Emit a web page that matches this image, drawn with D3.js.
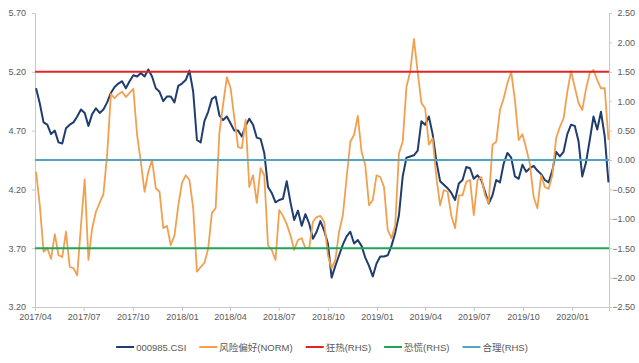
<!DOCTYPE html>
<html><head><meta charset="utf-8">
<script src="https://cdn.jsdelivr.net/npm/d3@7"></script>
<style>
html,body{margin:0;padding:0;background:#fff;}
svg text{font-family:"Liberation Sans",Arial,sans-serif;fill:#595959;}
</style></head>
<body><svg id="chart" width="639" height="363"></svg>
<script>
// Weekly observations (Mondays) from 2017-04-03 to 2020-03-09
const dates = d3.timeMonday.range(new Date(2017,3,3), new Date(2020,2,10));

// 000985.CSI (left axis)
const csi = [5.06,4.93,4.77,4.75,4.67,4.70,4.60,4.59,4.72,4.75,4.77,4.82,4.88,4.85,4.74,4.84,4.89,4.85,4.88,4.94,
5.02,5.07,5.10,5.12,5.06,5.12,5.17,5.16,5.19,5.16,5.22,5.16,5.06,5.03,4.95,4.99,4.99,4.94,5.08,5.10,
5.13,5.21,5.03,4.62,4.60,4.78,4.86,4.97,4.99,4.83,4.79,4.82,4.76,4.70,4.70,4.65,4.74,4.80,4.75,4.64,
4.63,4.51,4.22,4.17,4.09,4.11,4.12,4.27,4.09,3.94,4.02,3.89,3.99,3.91,3.78,3.84,3.93,3.85,3.74,3.45,
3.55,3.64,3.73,3.80,3.84,3.74,3.77,3.72,3.62,3.55,3.46,3.57,3.63,3.63,3.64,3.72,3.83,3.98,4.31,4.47,
4.48,4.49,4.53,4.78,4.75,4.82,4.67,4.44,4.27,4.24,4.21,4.17,4.11,4.25,4.28,4.39,4.38,4.29,4.32,4.28,
4.18,4.08,4.15,4.28,4.26,4.42,4.51,4.47,4.31,4.29,4.41,4.35,4.38,4.40,4.36,4.33,4.28,4.26,4.36,4.52,
4.48,4.52,4.67,4.75,4.74,4.61,4.31,4.43,4.62,4.82,4.71,4.86,4.65,4.26];

// 风险偏好(NORM) (right axis)
const norm = [-0.20,-0.77,-1.56,-1.50,-1.68,-1.26,-1.62,-1.65,-1.22,-1.82,-1.84,-1.96,-1.11,-0.33,-1.70,-1.16,-0.88,-0.73,-0.58,0.09,
1.12,1.05,1.12,1.16,1.07,1.14,1.21,0.43,-0.03,-0.54,-0.20,0.00,-0.48,-0.54,-1.16,-1.12,-1.45,-1.28,-0.78,-0.39,
-0.26,-0.34,-0.82,-1.90,-1.82,-1.75,-1.51,-0.90,-0.82,0.46,0.95,1.41,1.22,0.71,0.22,0.20,0.68,-0.46,-0.26,-0.73,
-0.14,-0.26,-1.45,-1.53,-1.70,-0.85,-0.95,-1.09,-1.28,-1.53,-1.36,-1.33,-1.50,-1.50,-1.05,-0.97,-0.95,-1.05,-1.62,-1.84,
-1.70,-1.22,-0.94,-0.31,0.31,0.43,0.75,0.14,-0.09,-0.77,-0.68,-0.26,-0.29,-0.46,-1.19,-1.33,-1.11,0.12,0.31,1.24,
1.50,2.06,1.50,0.97,0.88,0.26,0.37,-0.29,-0.77,-0.51,-0.54,-0.95,-1.16,-0.60,-0.60,-0.37,-0.34,-0.94,-0.34,-0.29,
-0.60,-0.73,0.26,0.31,0.85,1.05,1.31,1.50,1.02,0.34,0.44,0.20,-0.07,-0.63,-0.82,-0.26,-0.46,-0.49,-0.26,0.37,
0.56,0.71,1.16,1.51,1.24,0.97,0.85,1.21,1.48,1.53,1.36,1.22,1.22,0.34];

// Reference levels (right axis)
const levelNames = ["狂热(RHS)","恐慌(RHS)","合理(RHS)"];
const levelValues = [1.5,-1.5,0];

const leftTicks = [5.70,5.20,4.70,4.20,3.70,3.20];
const rightTicks = [2.50,2.00,1.50,1.00,0.50,0.00,-0.50,-1.00,-1.50,-2.00,-2.50];
const xTickLabels = ["2017/04","2017/07","2017/10","2018/01","2018/04","2018/07","2018/10","2019/01","2019/04","2019/07","2019/10","2020/01"];

const colors = {csi:"#1f3d6e", norm:"#f2a04f", hot:"#e0242a", panic:"#1fa45a", fair:"#52a5c0"};
const levelColors = [colors.hot, colors.panic, colors.fair];

const svg = d3.select("#chart");
const L = 35, R = 609, T = 13, B = 307;
const parse = d3.timeParse("%Y/%m");
const x = d3.scaleTime().domain([new Date(2017,3,1), new Date(2020,2,10)]).range([L,R]);
const yL = d3.scaleLinear().domain([3.2,5.7]).range([B,T]);
const yR = d3.scaleLinear().domain([-2.5,2.5]).range([B,T]);

// axes
const axisColor = "#c8c8c8";
const gL = svg.append("g").attr("transform",`translate(${L},0)`)
  .call(d3.axisLeft(yL).tickValues(leftTicks).tickSize(3).tickPadding(6).tickFormat(d3.format(".2f")));
const gR = svg.append("g").attr("transform",`translate(${R},0)`)
  .call(d3.axisRight(yR).tickValues(rightTicks).tickSize(3).tickPadding(4).tickFormat(d3.format(".2f")));
const gX = svg.append("g").attr("transform",`translate(0,${B})`)
  .call(d3.axisBottom(x).tickValues(xTickLabels.map(parse)).tickSize(4).tickPadding(3).tickFormat(d3.timeFormat("%Y/%m")));
[gL,gR,gX].forEach(g=>{
  g.selectAll("path,line").attr("stroke",axisColor);
  g.selectAll("text").style("font-size","9px").attr("fill","#595959");
});
gR.selectAll("text").attr("text-anchor","end").attr("x",26);

const lineL = d3.line().x((d,i)=>x(dates[i])).y(d=>yL(d));
const lineR = d3.line().x((d,i)=>x(dates[i])).y(d=>yR(d));
const n = Math.min(dates.length, csi.length, norm.length);

svg.append("path").datum(csi.slice(0,n)).attr("d",lineL)
  .attr("fill","none").attr("stroke",colors.csi).attr("stroke-width",2).attr("stroke-linejoin","round");
svg.append("path").datum(norm.slice(0,n)).attr("d",lineR)
  .attr("fill","none").attr("stroke",colors.norm).attr("stroke-width",1.8).attr("stroke-linejoin","round");

levelValues.forEach((v,k)=>{
  svg.append("line").attr("x1",L).attr("x2",R).attr("y1",yR(v)).attr("y2",yR(v))
    .attr("stroke",levelColors[k]).attr("stroke-width",2);
});

// legend
const legendItems = [{name:"000985.CSI",color:colors.csi},{name:"风险偏好(NORM)",color:colors.norm}]
  .concat(levelNames.map((nm,k)=>({name:nm,color:levelColors[k]})));
const lg = svg.append("g");
let cx = 0;
legendItems.forEach(it=>{
  const g = lg.append("g").attr("transform",`translate(${cx},0)`);
  g.append("line").attr("x1",0).attr("x2",18).attr("y1",0).attr("y2",0).attr("stroke",it.color).attr("stroke-width",2);
  const t = g.append("text").attr("x",20).attr("y",3.5).text(it.name)
    .style("font-size","9.5px").style("font-family",'"Liberation Sans","Noto Sans CJK SC",sans-serif');
  cx += 20 + t.node().getComputedTextLength() + 13;
});
const totalW = cx - 13;
lg.attr("transform",`translate(${322 - totalW/2},347)`);
</script></body></html>
